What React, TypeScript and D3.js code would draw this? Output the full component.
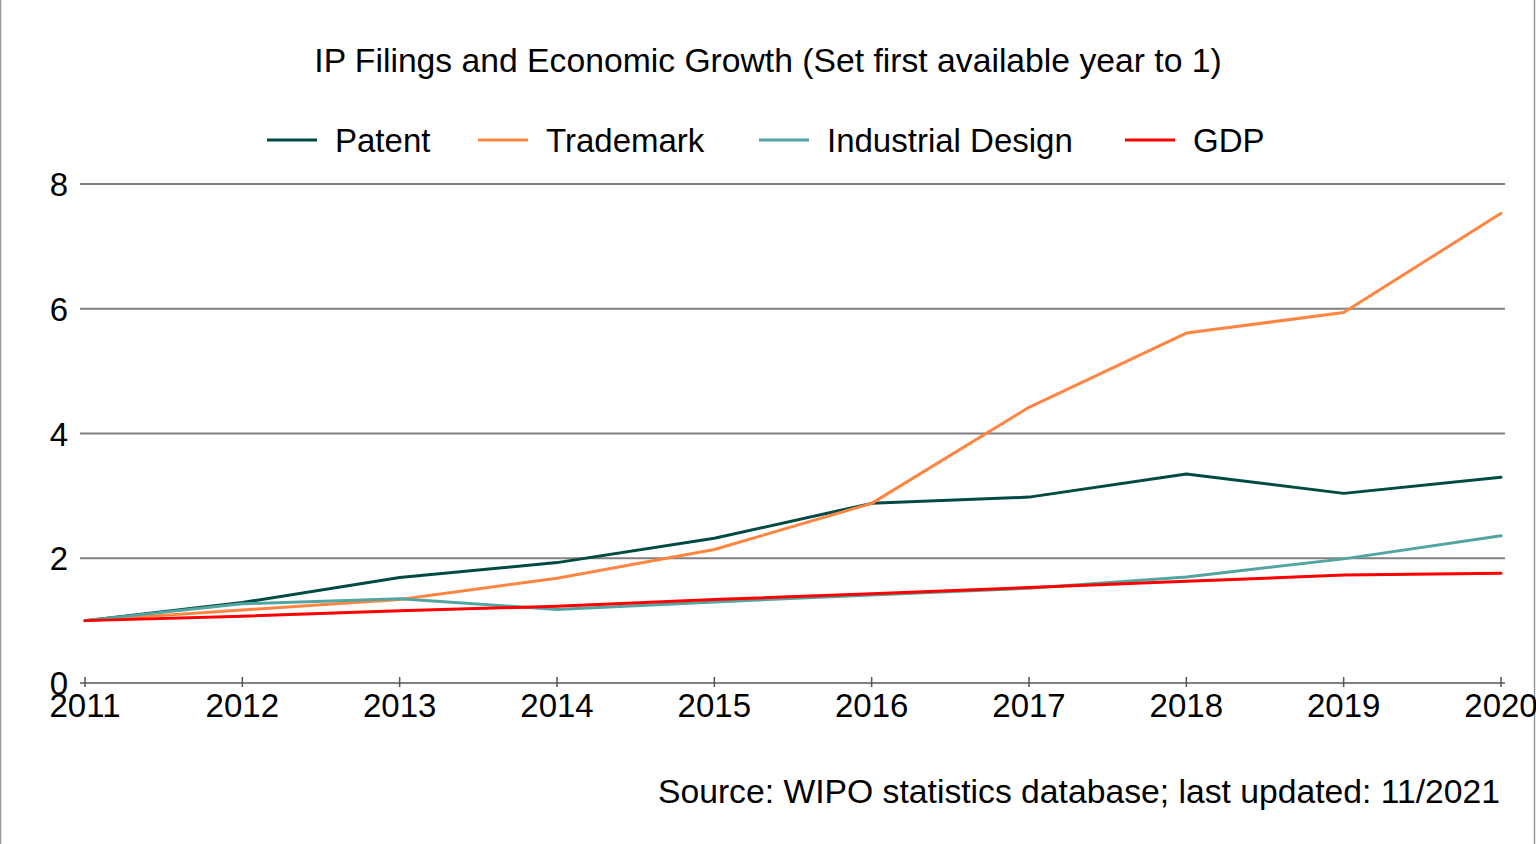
import React from "react";
import * as d3 from "d3";

const years = [2011, 2012, 2013, 2014, 2015, 2016, 2017, 2018, 2019, 2020];
const patent = [1.0, 1.29, 1.69, 1.93, 2.32, 2.88, 2.98, 3.35, 3.04, 3.3];
const trademark = [1.0, 1.17, 1.34, 1.68, 2.14, 2.88, 4.42, 5.61, 5.94, 7.53];
const industrialDesign = [1.0, 1.27, 1.35, 1.18, 1.3, 1.41, 1.52, 1.7, 1.99, 2.36];
const gdp = [1.0, 1.07, 1.16, 1.23, 1.34, 1.43, 1.53, 1.63, 1.73, 1.76];
const yTicks = [0, 2, 4, 6, 8];
const seriesNames = ["Patent", "Trademark", "Industrial Design", "GDP"];
const seriesColors = ["#004a44", "#ff8540", "#52a5a0", "#ff0000"];
const seriesValues = [patent, trademark, industrialDesign, gdp];
const legendX = [267, 478, 759, 1125];

const W = 1536;
const H = 844;
const FONT = "'Liberation Sans', Arial, sans-serif";

export default function App() {
  const x = d3.scaleLinear().domain([2011, 2020]).range([85, 1501]);
  const y = d3.scaleLinear().domain([0, 8]).range([683, 184]);
  const line = d3
    .line<[number, number]>()
    .x((d) => x(d[0]))
    .y((d) => y(d[1]));

  return (
    <svg
      width={W}
      height={H}
      style={{ position: "absolute", left: 0, top: 0, background: "#fff" }}
      fontFamily={FONT}
    >
      <line x1={0.5} x2={0.5} y1={0} y2={H} stroke="#9a9a9a" strokeWidth={1.5} />
      <line x1={1534.5} x2={1534.5} y1={0} y2={H} stroke="#9a9a9a" strokeWidth={1.5} />
      <text x={768} y={72} textAnchor="middle" fontSize={33.7} fill="#000">
        IP Filings and Economic Growth (Set first available year to 1)
      </text>
      {seriesNames.map((n, i) => (
        <g key={n}>
          <line x1={legendX[i]} x2={legendX[i] + 50} y1={140} y2={140} stroke={seriesColors[i]} strokeWidth={3} />
          <text x={legendX[i] + 68} y={152} fontSize={33} fill="#000">
            {n}
          </text>
        </g>
      ))}
      {yTicks.map((t) => (
        <g key={t}>
          <line x1={80} x2={1505} y1={y(t)} y2={y(t)} stroke="#808080" strokeWidth={2} />
          <text x={68} y={y(t) + 12} textAnchor="end" fontSize={33} fill="#000">
            {t}
          </text>
        </g>
      ))}
      {years.map((yr) => (
        <g key={yr}>
          <line x1={x(yr)} x2={x(yr)} y1={y(0) - 6} y2={y(0) + 4} stroke="#555" strokeWidth={1.5} />
          <text x={x(yr)} y={717} textAnchor="middle" fontSize={33} fill="#000">
            {yr}
          </text>
        </g>
      ))}
      {seriesValues.map((vals, i) => (
        <path
          key={seriesNames[i]}
          d={line(years.map((yr, j) => [yr, vals[j]] as [number, number])) || ""}
          fill="none"
          stroke={seriesColors[i]}
          strokeWidth={3}
          strokeLinejoin="round"
          strokeLinecap="round"
        />
      ))}
      <text x={1500} y={803} textAnchor="end" fontSize={33.7} fill="#000">
        Source: WIPO statistics database; last updated: 11/2021
      </text>
    </svg>
  );
}
